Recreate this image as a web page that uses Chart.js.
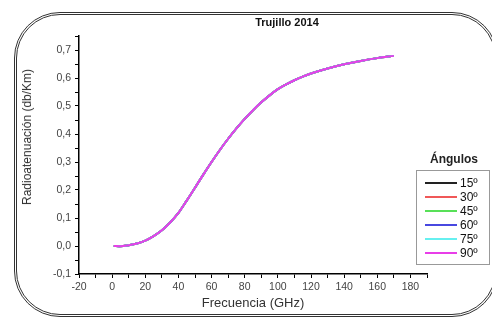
<!DOCTYPE html>
<html>
<head>
<meta charset="utf-8">
<script src="https://cdn.jsdelivr.net/npm/chart.js@4.4.1/dist/chart.umd.min.js"></script>
<style>
  body { margin: 0; background: #fff; font-family: "Liberation Sans", Arial, sans-serif; }
  #wrap { position: relative; width: 492px; height: 318px; overflow: hidden; background: #fff; }
  #frame { position: absolute; left: 14px; top: 12px; width: 478px; height: 299px; border: 3px double #333; border-radius: 46px; }
  #chart { position: absolute; left: 0; top: 0; }
  #title { position: absolute; left: 187px; width: 200px; top: 16px; text-align: center; font-weight: bold; font-size: 11px; color: #111; }
  #ytitle { position: absolute; left: 27px; top: 137px; transform: translate(-50%, -50%) rotate(-90deg); white-space: nowrap; font-size: 12px; color: #333; }
  #legTitle { position: absolute; left: 416px; width: 76px; top: 152px; text-align: center; font-weight: bold; font-size: 12px; color: #222; }
  #legBox { position: absolute; left: 416px; top: 170px; width: 74px; height: 95px; border: 1px solid #999; box-sizing: border-box; }
  .row { position: absolute; left: 8px; height: 14px; font-size: 12px; color: #111; line-height: 14px; }
  .row span.ln { position: absolute; left: 0; top: 6px; width: 32px; height: 2px; }
  .row span.tx { position: absolute; left: 35px; top: 0; }
</style>
</head>
<body>
<div id="wrap">
  <div id="frame"></div>
  <canvas id="chart" width="492" height="318"></canvas>
  <div id="title">Trujillo 2014</div>
  <div id="ytitle">Radioatenuación (db/Km)</div>
  <div id="legTitle">Ángulos</div>
  <div id="legBox"></div>
</div>
<script>
// datos
const frecuencia = [1, 5, 10, 15, 20, 25, 30, 35, 40, 45, 50, 55, 60, 65, 70, 75, 80, 85, 90, 95, 100, 105, 110, 115, 120, 130, 140, 150, 160, 170];
const atenuacion = [0.000, -0.001, 0.003, 0.009, 0.019, 0.035, 0.056, 0.084, 0.118, 0.162, 0.208, 0.255, 0.300, 0.343, 0.383, 0.420, 0.454, 0.485, 0.513, 0.538, 0.560, 0.577, 0.592, 0.605, 0.616, 0.634, 0.649, 0.661, 0.671, 0.679];
const angulos = ["15º", "30º", "45º", "60º", "75º", "90º"];
const colores = ["#222222", "#f05858", "#58e058", "#4848e0", "#66f0f0", "#e83ee8"];
const xTicks = [-20, 0, 20, 40, 60, 80, 100, 120, 140, 160, 180];
const yTicks = [-0.1, 0.0, 0.1, 0.2, 0.3, 0.4, 0.5, 0.6, 0.7];

// todas las curvas coinciden, la de 90º queda encima
const datasets = angulos.map(function (a, i) {
    return {
        label: a,
        data: frecuencia.map(function (f, j) { return { x: f, y: atenuacion[j] }; }),
        borderColor: colores[i],
        borderWidth: 2,
        pointRadius: 0,
        cubicInterpolationMode: "monotone",
        fill: false,
        order: angulos.length - i,
    };
});

// leyenda en html
const legBox = document.getElementById("legBox");
angulos.forEach(function (a, i) {
    const row = document.createElement("div");
    row.className = "row";
    row.style.top = (5 + i * 14) + "px";
    row.innerHTML = '<span class="ln" style="background:' + colores[i] + '"></span><span class="tx">' + a + "</span>";
    legBox.appendChild(row);
});

const tickFont = { family: "'Liberation Sans', Arial, sans-serif", size: 10.5 };

const ctx = document.getElementById("chart").getContext("2d");
new Chart(ctx, {
    type: "line",
    data: { datasets: datasets },
    options: {
        responsive: false,
        animation: false,
        layout: { padding: { left: 0, right: 65, top: 36, bottom: 0 } },
        plugins: { legend: { display: false }, title: { display: false }, tooltip: { enabled: false } },
        scales: {
            x: {
                type: "linear",
                min: -20,
                max: 190,
                afterFit: function (s) { s.height = 44; },
                border: { color: "#000", width: 1.5 },
                grid: { drawOnChartArea: false, color: "#000", tickLength: 4 },
                ticks: {
                    stepSize: 10,
                    autoSkip: false,
                    maxRotation: 0,
                    padding: 3,
                    color: "#444",
                    font: tickFont,
                    callback: function (v) { return xTicks.includes(v) ? String(v) : ""; },
                },
                title: {
                    display: true,
                    text: "Frecuencia (GHz)",
                    color: "#333",
                    font: { family: "'Liberation Sans', Arial, sans-serif", size: 13 },
                    padding: { top: 0, bottom: 7 },
                },
            },
            y: {
                type: "linear",
                min: -0.1,
                max: 0.75,
                afterFit: function (s) { s.width = 79; },
                border: { color: "#000", width: 1.5 },
                grid: { drawOnChartArea: false, color: "#000", tickLength: 4 },
                ticks: {
                    stepSize: 0.05,
                    autoSkip: false,
                    padding: 4,
                    color: "#444",
                    font: tickFont,
                    callback: function (v) {
                        const t = yTicks.find(function (k) { return Math.abs(k - v) < 1e-6; });
                        return t === undefined ? "" : t.toFixed(1).replace(".", ",");
                    },
                },
            },
        },
    },
});
</script>
</body>
</html>
